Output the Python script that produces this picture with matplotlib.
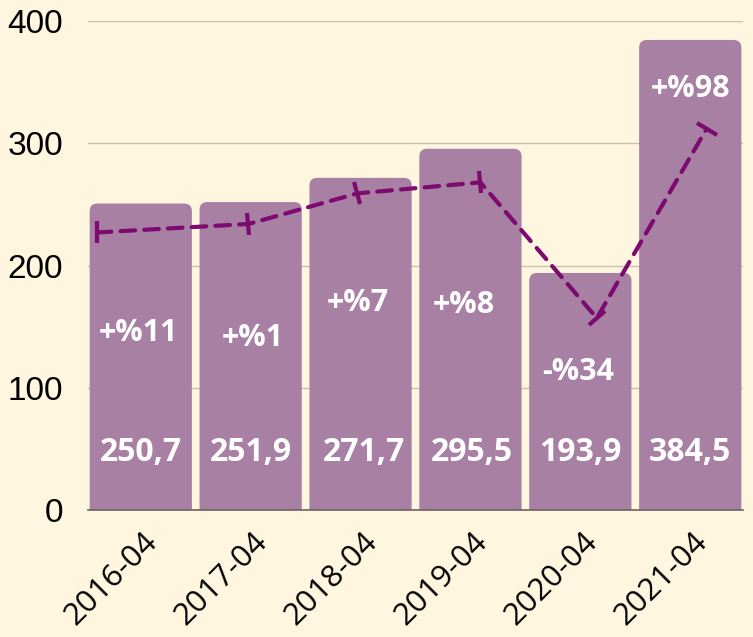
import numpy as np
import matplotlib.pyplot as plt
from matplotlib.patches import FancyBboxPatch
from matplotlib.markers import MarkerStyle
from matplotlib.transforms import Affine2D

# data ---------------------------------------------------------------
periods = ['2016-04', '2017-04', '2018-04', '2019-04', '2020-04', '2021-04']
values = [250.7, 251.9, 271.7, 295.5, 193.9, 384.5]
value_labels = ['250,7', '251,9', '271,7', '295,5', '193,9', '384,5']
pct_labels = ['+%11', '+%1', '+%7', '+%8', '-%34', '+%98']
# dashed trend line (drawn on its own, not centred on the bars)
line_x = [-0.40, -0.02, -0.03, 0.09, 0.15, 0.15]
line_y = [227, 234, 259, 268, 157, 312]
# --------------------------------------------------------------------

bg = '#fff6e0'
bar_col = '#a880a3'
line_col = '#7d0a6f'
pct_y = [145, 141, 169, 168, 113, 344]
pct_dx = [-0.02, 0.02, -0.02, -0.06, -0.02, 0.0]
val_y = 47
val_dx = [0.0, 0.0, 0.03, 0.01, 0.0, 0.0]

fig = plt.figure(figsize=(7.53, 6.37), dpi=100, facecolor=bg)
ax = fig.add_axes([0.1169, 0.1994, 0.8698, 0.7676], facecolor=bg)
ax.set_xlim(-0.48, 5.48)
ax.set_ylim(0, 400)

ax.set_yticks([0, 100, 200, 300, 400])
ax.yaxis.grid(True, color='#c9c0ae', lw=1)
ax.set_axisbelow(True)
for s in ['top', 'right', 'left']:
    ax.spines[s].set_visible(False)
ax.spines['bottom'].set_color('#6e6262')
ax.spines['bottom'].set_linewidth(1.2)
ax.tick_params(axis='y', length=0, pad=18, labelsize=24)
ax.tick_params(axis='x', length=0)
for t in ax.get_yticklabels():
    t.set_family('Liberation Sans')

w = 0.93
x = np.arange(len(values))
for xi, v in zip(x, values):
    p = FancyBboxPatch((xi - w / 2, -20), w, v + 20,
                       boxstyle='round,pad=0,rounding_size=0.07',
                       mutation_aspect=89, fc=bar_col, ec='none', zorder=2)
    ax.add_patch(p)

ax.set_xticks(x)
ax.set_xticklabels(periods, rotation=45, ha='right', va='top',
                   rotation_mode='anchor', fontsize=22.5, family='Open Sans')
for t in ax.get_xticklabels():
    t.set_transform(t.get_transform() + Affine2D().translate(2, -12))

for xi, lab, py, dx in zip(x, pct_labels, pct_y, pct_dx):
    ax.text(xi + dx, py, lab, ha='center', va='center', color='white',
            fontsize=22, fontweight='bold', family='Open Sans', zorder=4)
for xi, lab, dx in zip(x, value_labels, val_dx):
    ax.text(xi + dx, val_y, lab, ha='center', va='center', color='white',
            fontsize=23, fontweight='bold', family='Open Sans', zorder=4)

# dashed line with caps perpendicular to the incoming segment
lx = x + np.array(line_x)
ax.plot(lx, line_y, color=line_col, lw=3, ls=(0, (3.5, 2.2)),
        dash_capstyle='round', zorder=3)
pts = ax.transData.transform(np.column_stack([lx, line_y]))
for i in range(len(lx)):
    if i == 0:
        ang = 90
    else:
        d = pts[i] - pts[i - 1]
        ang = np.degrees(np.arctan2(d[1], d[0])) + 90
    m = MarkerStyle('|', transform=Affine2D().rotate_deg(ang - 90))
    ax.plot(lx[i], line_y[i], marker=m, ms=16, mew=3, color=line_col,
            zorder=3, clip_on=False)

fig.savefig('out.png', dpi=100, facecolor=bg)
